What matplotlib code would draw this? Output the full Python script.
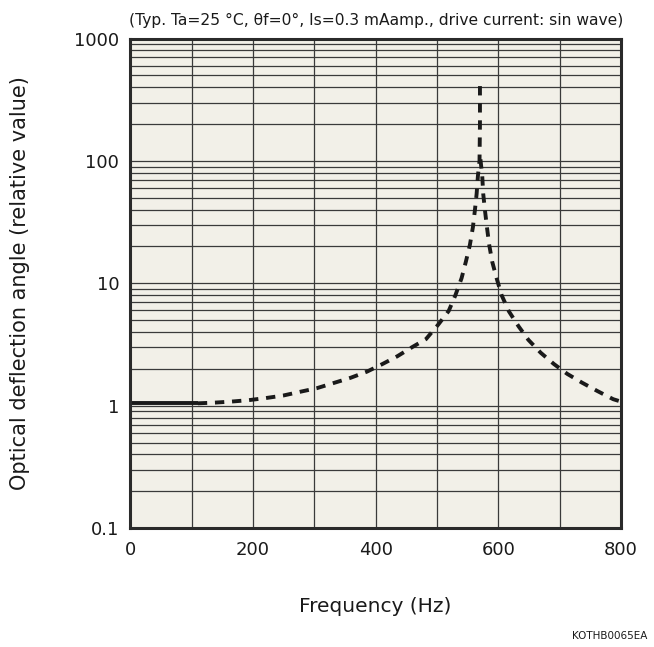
import matplotlib
matplotlib.use("Agg")
import matplotlib.pyplot as plt
from matplotlib.ticker import FixedLocator, NullFormatter

# data
solid_f = [0, 110]
solid_v = [1.046, 1.046]

left_f = [110, 138, 164, 193, 221, 249, 277, 304, 331, 359, 386, 411, 435, 459,
          482, 502, 519, 530, 540, 547, 553.6, 558.5, 561.8, 564.6, 566.7, 569.3, 570, 570]
left_v = [1.046, 1.06, 1.08, 1.11, 1.155, 1.21, 1.30, 1.39, 1.53, 1.69, 1.90, 2.19, 2.53, 3.0,
          3.5, 4.6, 5.94, 8.0, 11.0, 15.0, 20.6, 28.7, 39.7, 54, 75.7, 100, 200, 420]

right_f = [570.8, 573.7, 575.3, 578.1, 581.4, 585.1, 590, 597.2, 605.3, 617.2, 633, 649,
           669, 690.6, 712.3, 736.7, 761.2, 787.3, 800]
right_v = [103, 75.7, 54, 39.7, 28.7, 20.6, 15.0, 11.0, 8.0, 5.9, 4.45, 3.45,
           2.71, 2.19, 1.82, 1.54, 1.32, 1.13, 1.08]

xticks = [0, 200, 400, 600, 800]
yticks = [0.1, 1, 10, 100, 1000]
ytick_labels = ["0.1", "1", "10", "100", "1000"]

title = "(Typ. Ta=25 \u00b0C, \u03b8f=0\u00b0, Is=0.3 mAamp., drive current: sin wave)"
xlabel = "Frequency (Hz)"
ylabel = "Optical deflection angle (relative value)"
code = "KOTHB0065EA"

plt.rcParams['font.family'] = ['DejaVu Sans']

fig = plt.figure(figsize=(6.54, 6.47), dpi=100)
ax = fig.add_axes([130.4 / 654, 1 - 528.1 / 647, 490.6 / 654, 489.6 / 647])
ax.set_facecolor('#f2f0e8')
ax.set_yscale('log')
ax.set_xlim(0, 800)
ax.set_ylim(0.1, 1000)

# grid
for x in range(100, 800, 100):
    ax.axvline(x, color='#3a3a3a', lw=0.9, zorder=1)
for dec in [0.1, 1, 10, 100]:
    for m in range(1, 10):
        y = dec * m
        if 0.1 < y < 1000:
            ax.axhline(y, color='#3a3a3a', lw=0.9, zorder=1)

ax.plot(solid_f, solid_v, color='#1a1a1a', lw=2.8, solid_capstyle='butt', zorder=3)
ax.plot(left_f, left_v, color='#1a1a1a', lw=2.8, dashes=(2.4, 2.0), zorder=3)
ax.plot(right_f, right_v, color='#1a1a1a', lw=2.8, dashes=(2.4, 2.0), zorder=3)

ax.xaxis.set_major_locator(FixedLocator(xticks))
ax.yaxis.set_major_locator(FixedLocator(yticks))
ax.yaxis.set_minor_locator(FixedLocator([]))
ax.yaxis.set_minor_formatter(NullFormatter())
ax.set_yticklabels(ytick_labels)
ax.tick_params(axis='both', length=0, labelsize=13, colors='#1a1a1a')
ax.tick_params(axis='x', pad=9)
ax.tick_params(axis='y', pad=8)

for s in ax.spines.values():
    s.set_linewidth(2.2)
    s.set_color('#2a2a2a')
    s.set_zorder(5)

ax.set_title(title, fontsize=11.2, pad=10, color='#1a1a1a')
fig.text(0.573, 0.062, xlabel, ha='center', va='center', fontsize=14.5, color='#1a1a1a')
fig.text(0.031, 0.5625, ylabel, ha='center', va='center', rotation=90, fontsize=15, color='#1a1a1a')
fig.text(0.99, 0.017, code, ha='right', va='center', fontsize=7.5, color='#1a1a1a')

fig.savefig('out.png', dpi=100)
